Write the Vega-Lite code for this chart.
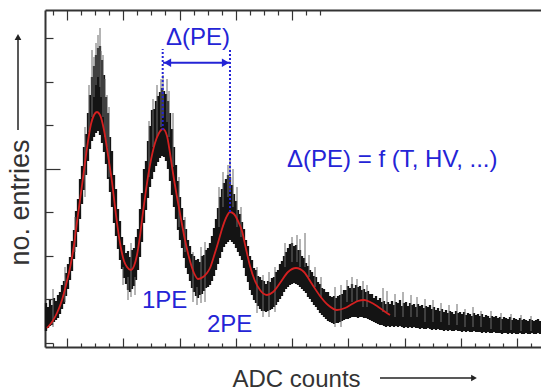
{
  "$schema": "https://vega.github.io/schema/vega-lite/v6.json",
  "width": 496,
  "height": 337,
  "autosize": {"type": "none"},
  "padding": {"left": 45, "top": 10, "right": 0, "bottom": 45},
  "background": "white",
  "config": {"view": {"stroke": null}},
  "resolve": {"axis": {"x": "independent"}},
  "layer": [
    {
      "data": {"values": [
        {"a":1,"lo":16,"hi":44},{"a":3,"lo":19,"hi":40},{"a":5,"lo":21,"hi":47},{"a":7,"lo":22,"hi":42},{"a":9,"lo":25,"hi":49},
        {"a":11,"lo":27,"hi":46},{"a":13,"lo":29,"hi":52},{"a":15,"lo":33,"hi":55},{"a":17,"lo":38,"hi":62},{"a":19,"lo":43,"hi":66},
        {"a":21,"lo":51,"hi":74},{"a":23,"lo":58,"hi":83},{"a":25,"lo":67,"hi":90},{"a":27,"lo":76,"hi":106},{"a":29,"lo":88,"hi":117},
        {"a":31,"lo":100,"hi":136},{"a":33,"lo":115,"hi":148},{"a":35,"lo":128,"hi":168},{"a":37,"lo":143,"hi":181},{"a":39,"lo":157,"hi":200},
        {"a":41,"lo":172,"hi":213},{"a":43,"lo":186,"hi":234},{"a":45,"lo":198,"hi":252},{"a":47,"lo":206,"hi":270},{"a":49,"lo":210,"hi":281},
        {"a":51,"lo":214,"hi":292},{"a":53,"lo":216,"hi":299},{"a":55,"lo":212,"hi":301},{"a":57,"lo":204,"hi":287},{"a":59,"lo":195,"hi":272},
        {"a":61,"lo":183,"hi":250},{"a":63,"lo":168,"hi":234},{"a":65,"lo":155,"hi":210},{"a":67,"lo":140,"hi":196},{"a":69,"lo":124,"hi":172},
        {"a":71,"lo":111,"hi":158},{"a":73,"lo":98,"hi":138},{"a":75,"lo":87,"hi":126},{"a":77,"lo":78,"hi":110},{"a":79,"lo":69,"hi":102},
        {"a":81,"lo":63,"hi":94},{"a":83,"lo":57,"hi":96},{"a":85,"lo":55,"hi":90},{"a":87,"lo":58,"hi":97},{"a":89,"lo":61,"hi":99},
        {"a":91,"lo":67,"hi":110},{"a":93,"lo":77,"hi":118},{"a":95,"lo":90,"hi":138},{"a":97,"lo":105,"hi":154},{"a":99,"lo":124,"hi":178},
        {"a":101,"lo":137,"hi":186},{"a":103,"lo":149,"hi":206},{"a":105,"lo":160,"hi":221},{"a":107,"lo":168,"hi":237},{"a":109,"lo":175,"hi":238},
        {"a":111,"lo":181,"hi":246},{"a":113,"lo":185,"hi":251},{"a":115,"lo":189,"hi":255},{"a":117,"lo":191,"hi":259},{"a":119,"lo":190,"hi":256},
        {"a":121,"lo":186,"hi":253},{"a":123,"lo":178,"hi":246},{"a":125,"lo":166,"hi":234},{"a":127,"lo":152,"hi":218},{"a":129,"lo":140,"hi":200},
        {"a":131,"lo":128,"hi":182},{"a":133,"lo":117,"hi":166},{"a":135,"lo":107,"hi":150},{"a":137,"lo":99,"hi":139},{"a":139,"lo":89,"hi":127},
        {"a":141,"lo":79,"hi":118},{"a":143,"lo":73,"hi":107},{"a":145,"lo":66,"hi":101},{"a":147,"lo":59,"hi":93},{"a":149,"lo":55,"hi":91},
        {"a":151,"lo":51,"hi":87},{"a":153,"lo":49,"hi":88},{"a":155,"lo":52,"hi":85},{"a":157,"lo":53,"hi":91},{"a":159,"lo":56,"hi":92},
        {"a":161,"lo":59,"hi":97},{"a":163,"lo":60,"hi":99},{"a":165,"lo":62,"hi":104},{"a":167,"lo":66,"hi":111},{"a":169,"lo":71,"hi":119},
        {"a":171,"lo":77,"hi":128},{"a":173,"lo":83,"hi":139},{"a":175,"lo":89,"hi":150},{"a":177,"lo":95,"hi":158},{"a":179,"lo":100,"hi":164},
        {"a":181,"lo":103,"hi":168},{"a":183,"lo":105,"hi":172},{"a":185,"lo":107,"hi":170},{"a":187,"lo":105,"hi":162},{"a":189,"lo":103,"hi":153},
        {"a":191,"lo":99,"hi":146},{"a":193,"lo":95,"hi":137},{"a":195,"lo":91,"hi":133},{"a":197,"lo":87,"hi":125},{"a":199,"lo":79,"hi":118},
        {"a":201,"lo":71,"hi":107},{"a":203,"lo":65,"hi":101},{"a":205,"lo":57,"hi":91},{"a":207,"lo":52,"hi":87},{"a":209,"lo":47,"hi":79},
        {"a":211,"lo":44,"hi":77},{"a":213,"lo":41,"hi":71},{"a":215,"lo":38,"hi":70},{"a":217,"lo":36,"hi":67},{"a":219,"lo":36,"hi":66},
        {"a":221,"lo":35,"hi":63},{"a":223,"lo":36,"hi":66},{"a":225,"lo":37,"hi":65},{"a":227,"lo":38,"hi":69},{"a":229,"lo":40,"hi":70},
        {"a":231,"lo":42,"hi":75},{"a":233,"lo":45,"hi":77},{"a":235,"lo":48,"hi":83},{"a":237,"lo":51,"hi":86},{"a":239,"lo":55,"hi":91},
        {"a":241,"lo":58,"hi":95},{"a":243,"lo":60,"hi":99},{"a":245,"lo":62,"hi":103},{"a":247,"lo":63,"hi":104},{"a":249,"lo":64,"hi":101},
        {"a":251,"lo":63,"hi":102},{"a":253,"lo":62,"hi":97},{"a":255,"lo":60,"hi":97},{"a":257,"lo":58,"hi":91},{"a":259,"lo":56,"hi":89},
        {"a":261,"lo":54,"hi":84},{"a":263,"lo":50,"hi":81},{"a":265,"lo":48,"hi":77},{"a":267,"lo":45,"hi":75},{"a":269,"lo":42,"hi":71},
        {"a":271,"lo":40,"hi":70},{"a":273,"lo":37,"hi":65},{"a":275,"lo":34,"hi":63},{"a":277,"lo":32,"hi":59},{"a":279,"lo":30,"hi":58},
        {"a":281,"lo":28,"hi":55},{"a":283,"lo":26,"hi":55},{"a":285,"lo":25,"hi":51},{"a":287,"lo":24,"hi":50},{"a":289,"lo":23,"hi":51},
        {"a":291,"lo":24,"hi":49},{"a":293,"lo":24,"hi":51},{"a":295,"lo":25,"hi":52},{"a":297,"lo":26,"hi":53},{"a":299,"lo":27,"hi":57},
        {"a":301,"lo":28,"hi":57},{"a":303,"lo":28,"hi":61},{"a":305,"lo":29,"hi":59},{"a":307,"lo":30,"hi":63},{"a":309,"lo":30,"hi":59},
        {"a":311,"lo":30,"hi":62},{"a":313,"lo":29,"hi":60},{"a":315,"lo":30,"hi":61},{"a":317,"lo":30,"hi":57},{"a":319,"lo":29,"hi":58},
        {"a":321,"lo":29,"hi":55},{"a":323,"lo":28,"hi":56},{"a":325,"lo":27,"hi":53},{"a":327,"lo":26,"hi":53},{"a":329,"lo":25,"hi":49},
        {"a":331,"lo":24,"hi":51},{"a":333,"lo":23,"hi":47},{"a":335,"lo":22,"hi":49},{"a":337,"lo":22,"hi":45},{"a":339,"lo":21,"hi":46},
        {"a":341,"lo":20,"hi":43},{"a":343,"lo":21,"hi":45},{"a":345,"lo":20,"hi":43},{"a":347,"lo":21,"hi":46},{"a":349,"lo":20,"hi":42},
        {"a":351,"lo":21,"hi":45},{"a":353,"lo":20,"hi":44},{"a":355,"lo":21,"hi":47},{"a":357,"lo":20,"hi":41},{"a":359,"lo":19,"hi":44},
        {"a":361,"lo":20,"hi":45},{"a":363,"lo":19,"hi":41},{"a":365,"lo":20,"hi":44},{"a":367,"lo":19,"hi":42},{"a":369,"lo":20,"hi":43},
        {"a":371,"lo":19,"hi":40},{"a":373,"lo":19,"hi":43},{"a":375,"lo":18,"hi":41},{"a":377,"lo":19,"hi":42},{"a":379,"lo":18,"hi":39},
        {"a":381,"lo":18,"hi":41},{"a":383,"lo":19,"hi":40},{"a":385,"lo":18,"hi":42},{"a":387,"lo":17,"hi":38},{"a":389,"lo":18,"hi":40},
        {"a":391,"lo":17,"hi":37},{"a":393,"lo":18,"hi":39},{"a":395,"lo":17,"hi":36},{"a":397,"lo":17,"hi":38},{"a":399,"lo":16,"hi":35},
        {"a":401,"lo":17,"hi":37},{"a":403,"lo":16,"hi":34},{"a":405,"lo":17,"hi":36},{"a":407,"lo":16,"hi":35},{"a":409,"lo":16,"hi":33},
        {"a":411,"lo":17,"hi":36},{"a":413,"lo":16,"hi":34},{"a":415,"lo":16,"hi":35},{"a":417,"lo":15,"hi":33},{"a":419,"lo":16,"hi":35},
        {"a":421,"lo":15,"hi":32},{"a":423,"lo":16,"hi":34},{"a":425,"lo":15,"hi":33},{"a":427,"lo":15,"hi":31},{"a":429,"lo":16,"hi":34},
        {"a":431,"lo":15,"hi":32},{"a":433,"lo":15,"hi":33},{"a":435,"lo":15,"hi":31},{"a":437,"lo":14,"hi":33},{"a":439,"lo":15,"hi":30},
        {"a":441,"lo":14,"hi":32},{"a":443,"lo":15,"hi":31},{"a":445,"lo":14,"hi":29},{"a":447,"lo":14,"hi":31},{"a":449,"lo":15,"hi":30},
        {"a":451,"lo":14,"hi":31},{"a":453,"lo":14,"hi":29},{"a":455,"lo":14,"hi":30},{"a":457,"lo":13,"hi":28},{"a":459,"lo":14,"hi":30},
        {"a":461,"lo":14,"hi":29},{"a":463,"lo":13,"hi":28},{"a":465,"lo":14,"hi":30},{"a":467,"lo":13,"hi":27},{"a":469,"lo":14,"hi":29},
        {"a":471,"lo":13,"hi":28},{"a":473,"lo":13,"hi":27},{"a":475,"lo":14,"hi":29},{"a":477,"lo":13,"hi":27},{"a":479,"lo":13,"hi":28},
        {"a":481,"lo":14,"hi":27},{"a":483,"lo":13,"hi":26},{"a":485,"lo":13,"hi":28},{"a":487,"lo":14,"hi":27},{"a":489,"lo":13,"hi":26},
        {"a":491,"lo":13,"hi":27},{"a":493,"lo":14,"hi":28},{"a":495,"lo":13,"hi":26}
      ]},
      "mark": {"type": "rule", "color": "#141414", "strokeWidth": 2.3},
      "encoding": {
        "x": {
          "field": "a", "type": "quantitative",
          "scale": {"domain": [0, 496], "nice": false, "zero": false},
          "axis": {
            "orient": "bottom",
            "title": "ADC counts",
            "titleX": 187, "titleY": 39,
            "titleAlign": "left", "titleBaseline": "alphabetic",
            "titleFont": "Liberation Sans", "titleFontSize": 24, "titleFontWeight": "normal", "titleColor": "#333333",
            "labels": false, "grid": false,
            "domainColor": "#333333", "domainWidth": 2,
            "tickColor": "#333333", "tickWidth": 1.2,
            "values": [7.9375,22,36.0625,50.125,64.1875,78.25,92.3125,106.375,120.4375,134.5,148.5625,162.625,176.6875,190.75,204.8125,218.875,232.9375,247,261.0625,275.125,289.1875,303.25,317.3125,331.375,345.4375,359.5,373.5625,387.625,401.6875,415.75,429.8125,443.875,457.9375,472,486.0625],
            "tickSize": {"condition": {"test": "round((datum.value - 22) / 14.0625) % 4 == 0", "value": -9}, "value": -4}
          }
        },
        "y": {
          "field": "lo", "type": "quantitative",
          "scale": {"domain": [0, 337], "nice": false, "zero": false},
          "axis": {
            "orient": "left",
            "title": "no. entries",
            "titleAngle": -90,
            "titleX": -17, "titleY": 192,
            "titleAlign": "center", "titleBaseline": "alphabetic",
            "titleFont": "Liberation Sans", "titleFontSize": 27, "titleFontWeight": "normal", "titleColor": "#333333",
            "labels": false, "grid": false,
            "domainColor": "#333333", "domainWidth": 2,
            "tickColor": "#333333", "tickWidth": 1.2,
            "values": [4.12,15,25.88,36.76,47.64,58.52,69.4,80.28,91.16,102.04,112.92,123.8,134.68,145.56,156.44,167.32,178.2,189.08,199.96,210.84,221.72,232.6,243.48,254.36,265.24,276.12,287,297.88,308.76,319.64,330.52],
            "tickSize": {"condition": {"test": "round((datum.value - 15) / 10.88) % 5 == 0", "value": -15}, "value": -8}
          }
        },
        "y2": {"field": "hi"}
      }
    },
    {
      "data": {"values": [
        {"a":8,"lo":20,"hi":58},{"a":20,"lo":45,"hi":80},{"a":30,"lo":95,"hi":130},{"a":40,"lo":150,"hi":220},
        {"a":44,"lo":215,"hi":262},{"a":47,"lo":230,"hi":297},{"a":49,"lo":250,"hi":290},{"a":51,"lo":262,"hi":304},{"a":53,"lo":270,"hi":312},
        {"a":55,"lo":260,"hi":319},{"a":56,"lo":250,"hi":296},{"a":58,"lo":230,"hi":292},{"a":60,"lo":210,"hi":268},{"a":62,"lo":200,"hi":252},{"a":64,"lo":170,"hi":240},
        {"a":78,"lo":62,"hi":80},{"a":83,"lo":47,"hi":70},{"a":86,"lo":50,"hi":104},{"a":90,"lo":52,"hi":70},
        {"a":104,"lo":170,"hi":226},{"a":108,"lo":200,"hi":248},{"a":112,"lo":210,"hi":262},{"a":116,"lo":220,"hi":268},{"a":118,"lo":230,"hi":272},
        {"a":122,"lo":225,"hi":268},{"a":124,"lo":210,"hi":256},{"a":128,"lo":180,"hi":234},{"a":134,"lo":120,"hi":170},{"a":140,"lo":95,"hi":130},
        {"a":148,"lo":45,"hi":95},{"a":152,"lo":42,"hi":60},{"a":156,"lo":44,"hi":100},{"a":160,"lo":45,"hi":105},
        {"a":174,"lo":120,"hi":160},{"a":178,"lo":140,"hi":175},{"a":183,"lo":150,"hi":182},{"a":185,"lo":155,"hi":187},{"a":188,"lo":140,"hi":178},
        {"a":192,"lo":120,"hi":160},{"a":196,"lo":110,"hi":140},
        {"a":212,"lo":34,"hi":80},{"a":218,"lo":30,"hi":72},{"a":224,"lo":30,"hi":75},{"a":230,"lo":35,"hi":80},
        {"a":240,"lo":80,"hi":104},{"a":247,"lo":85,"hi":110},{"a":252,"lo":85,"hi":112},{"a":255,"lo":80,"hi":108},{"a":260,"lo":80,"hi":114},
        {"a":264,"lo":70,"hi":92},{"a":270,"lo":60,"hi":80},{"a":276,"lo":50,"hi":70},{"a":290,"lo":20,"hi":60},{"a":296,"lo":20,"hi":62},
        {"a":302,"lo":45,"hi":67},{"a":307,"lo":45,"hi":70},{"a":312,"lo":45,"hi":68},{"a":318,"lo":40,"hi":66},{"a":322,"lo":40,"hi":62},
        {"a":338,"lo":35,"hi":59},{"a":342,"lo":35,"hi":56},{"a":350,"lo":30,"hi":53},{"a":358,"lo":30,"hi":55},{"a":366,"lo":30,"hi":52},
        {"a":372,"lo":30,"hi":50},{"a":380,"lo":25,"hi":48},{"a":388,"lo":25,"hi":47},{"a":396,"lo":25,"hi":44},{"a":404,"lo":22,"hi":42},
        {"a":412,"lo":22,"hi":43},{"a":420,"lo":20,"hi":38},{"a":428,"lo":20,"hi":40},{"a":436,"lo":20,"hi":36},{"a":446,"lo":18,"hi":36},
        {"a":456,"lo":17,"hi":34},{"a":466,"lo":17,"hi":33},{"a":476,"lo":16,"hi":32},{"a":486,"lo":16,"hi":31}
      ]},
      "mark": {"type": "rule", "color": "#6a6a6a", "strokeWidth": 1},
      "encoding": {
        "x": {
          "field": "a", "type": "quantitative",
          "axis": {
            "orient": "top", "title": null, "labels": false, "grid": false,
            "domainColor": "#333333", "domainWidth": 2,
            "tickColor": "#333333", "tickWidth": 1.2,
            "values": [7.9375,22,36.0625,50.125,64.1875,78.25,92.3125,106.375,120.4375,134.5,148.5625,162.625,176.6875,190.75,204.8125,218.875,232.9375,247,261.0625,275.125],
            "tickSize": {"condition": {"test": "round((datum.value - 22) / 14.0625) % 4 == 0", "value": -10}, "value": -5}
          }
        },
        "y": {"field": "lo", "type": "quantitative"},
        "y2": {"field": "hi"}
      }
    },
    {
      "data": {"values": [
        {"a":2,"e":19},{"a":7,"e":25},{"a":12,"e":34},{"a":17,"e":47},{"a":21,"e":62},{"a":25,"e":79},{"a":29,"e":102},{"a":32,"e":125},
        {"a":35,"e":147},{"a":38,"e":169},{"a":42,"e":199},{"a":46,"e":223},{"a":49,"e":232},{"a":52,"e":235},{"a":55,"e":232},{"a":59,"e":217},
        {"a":63,"e":192},{"a":67,"e":165},{"a":71,"e":132},{"a":75,"e":104},{"a":79,"e":86},{"a":82,"e":80},{"a":86,"e":77},{"a":89,"e":81},
        {"a":92,"e":92},{"a":95,"e":111},{"a":98,"e":135},{"a":101,"e":157},{"a":105,"e":182},{"a":110,"e":204},{"a":114,"e":214},{"a":118,"e":218},
        {"a":122,"e":211},{"a":125,"e":194},{"a":128,"e":174},{"a":132,"e":150},{"a":136,"e":128},{"a":140,"e":107},{"a":145,"e":86},{"a":149,"e":74},
        {"a":153,"e":68},{"a":158,"e":70},{"a":162,"e":74},{"a":165,"e":79},{"a":169,"e":91},{"a":173,"e":104},{"a":177,"e":118},{"a":181,"e":129},
        {"a":185,"e":135},{"a":189,"e":133},{"a":193,"e":126},{"a":197,"e":116},{"a":201,"e":98},{"a":205,"e":81},{"a":210,"e":66},{"a":215,"e":57},
        {"a":222,"e":52},{"a":228,"e":55},{"a":235,"e":64},{"a":243,"e":75},{"a":251,"e":79},{"a":259,"e":75},{"a":267,"e":63},{"a":275,"e":51},
        {"a":283,"e":42},{"a":292,"e":37},{"a":300,"e":39},{"a":307,"e":43},{"a":313,"e":46},{"a":319,"e":47},{"a":325,"e":45},{"a":332,"e":41},
        {"a":339,"e":36},{"a":345,"e":32}
      ]},
      "mark": {"type": "line", "color": "#d42020", "strokeWidth": 1.8, "interpolate": "monotone"},
      "encoding": {
        "x": {"field": "a", "type": "quantitative", "axis": null},
        "y": {"field": "e", "type": "quantitative"}
      }
    },
    {
      "data": {"values": [
        {"a":117.7,"e1":217,"e2":298},
        {"a":185,"e1":135,"e2":298}
      ]},
      "mark": {"type": "rule", "color": "#2424d6", "strokeWidth": 2, "strokeDash": [2, 2]},
      "encoding": {
        "x": {"field": "a", "type": "quantitative", "axis": null},
        "y": {"field": "e1", "type": "quantitative"},
        "y2": {"field": "e2"}
      }
    },
    {
      "data": {"values": [{"a1":118,"a2":185,"e":284.3}]},
      "mark": {"type": "rule", "color": "#2424d6", "strokeWidth": 2},
      "encoding": {
        "x": {"field": "a1", "type": "quantitative", "axis": null},
        "x2": {"field": "a2"},
        "y": {"field": "e", "type": "quantitative"}
      }
    },
    {
      "data": {"values": [
        {"a":122.5,"e":284.3,"s":"triangle-left"},
        {"a":180.5,"e":284.3,"s":"triangle-right"}
      ]},
      "mark": {"type": "point", "filled": true, "color": "#2424d6", "size": 70, "opacity": 1},
      "encoding": {
        "x": {"field": "a", "type": "quantitative", "axis": null},
        "y": {"field": "e", "type": "quantitative"},
        "shape": {"field": "s", "type": "nominal", "scale": null, "legend": null}
      }
    },
    {
      "data": {"values": [
        {"a":121,"e":302.5,"label":"Δ(PE)"},
        {"a":242,"e":180,"label":"Δ(PE) = f (T, HV, ...)"},
        {"a":97,"e":39,"label":"1PE"},
        {"a":162,"e":15,"label":"2PE"}
      ]},
      "mark": {"type": "text", "align": "left", "baseline": "alphabetic", "font": "Liberation Sans", "fontSize": 24, "color": "#2424d6"},
      "encoding": {
        "x": {"field": "a", "type": "quantitative", "axis": null},
        "y": {"field": "e", "type": "quantitative"},
        "text": {"field": "label"}
      }
    },
    {
      "data": {"values": [
        {"a1":-27,"a2":-27,"e1":217,"e2":310},
        {"a1":335,"a2":429,"e1":-31,"e2":-31}
      ]},
      "mark": {"type": "rule", "color": "#222222", "strokeWidth": 1.5},
      "encoding": {
        "x": {"field": "a1", "type": "quantitative", "axis": null},
        "x2": {"field": "a2"},
        "y": {"field": "e1", "type": "quantitative"},
        "y2": {"field": "e2"}
      }
    },
    {
      "data": {"values": [
        {"a":-27,"e":310,"s":"triangle-up"},
        {"a":429,"e":-31,"s":"triangle-right"}
      ]},
      "mark": {"type": "point", "filled": true, "color": "#222222", "size": 45, "opacity": 1},
      "encoding": {
        "x": {"field": "a", "type": "quantitative", "axis": null},
        "y": {"field": "e", "type": "quantitative"},
        "shape": {"field": "s", "type": "nominal", "scale": null, "legend": null}
      }
    }
  ]
}
